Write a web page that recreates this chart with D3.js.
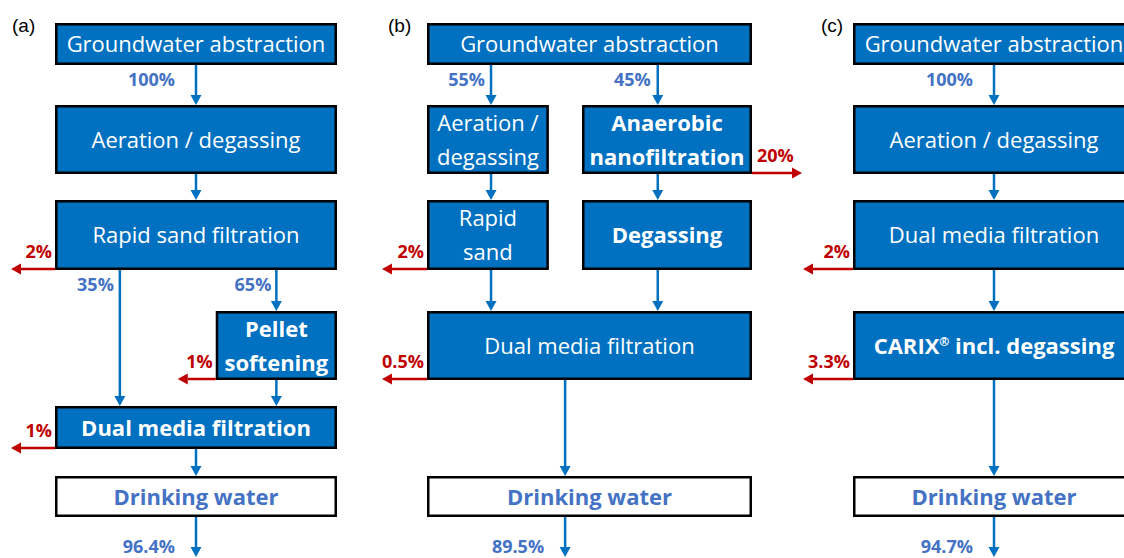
<!DOCTYPE html>
<html>
<head>
<meta charset="utf-8">
<script src="https://cdn.jsdelivr.net/npm/d3@7"></script>
<style>
  body { margin: 0; background: #fff; }
  svg { display: block; }
</style>
</head>
<body>
<svg id="chart"></svg>
<script>
const W = 1124, H = 558;
const BLUE = "#0070c0", LABEL_BLUE = "#4472c4", RED = "#c00000";
const FONT = "'Open Sans', 'Noto Sans', sans-serif";

// ---- data ----
const panelLetters = ["(a)", "(b)", "(c)"];

const stepsA = ["Groundwater abstraction", "Aeration / degassing", "Rapid sand filtration",
                "Pellet\nsoftening", "Dual media filtration", "Drinking water"];
const stepsB = ["Groundwater abstraction", "Aeration /\ndegassing", "Anaerobic\nnanofiltration",
                "Rapid\nsand", "Degassing", "Dual media filtration", "Drinking water"];
const stepsC = ["Groundwater abstraction", "Aeration / degassing", "Dual media filtration",
                "CARIX® incl. degassing", "Drinking water"];

// [from step, to step, share of flow in %]
const flowsA = [[0, 1, 100], [1, 2, null], [2, 4, 35], [2, 3, 65], [3, 4, null], [4, 5, null]];
const flowsB = [[0, 1, 55], [0, 2, 45], [1, 3, null], [2, 4, null], [3, 5, null], [4, 5, null], [5, 6, null]];
const flowsC = [[0, 1, 100], [1, 2, null], [2, 3, null], [3, 4, null]];

// [step, water loss in %]
const lossesA = [[2, 2], [3, 1], [4, 1]];
const lossesB = [[2, 20], [3, 2], [5, 0.5]];
const lossesC = [[2, 2], [3, 3.3]];

const product = [96.4, 89.5, 94.7];

// ---- layout ----
const rowY = d3.scaleOrdinal().domain([0, 1, 2, 3, 4, 5]).range([23, 105, 200, 311, 406, 476]);
const rowB = d3.scaleOrdinal().domain([0, 1, 2, 3, 4, 5]).range([65, 174, 270, 380, 449, 517]);

const panels = [
  {
    steps: stepsA, flows: flowsA, losses: lossesA, ext: [55, 337], letterX: 12,
    nodes: [
      { row: 0, u: [0, 1] }, { row: 1, u: [0, 1] }, { row: 2, u: [0, 1] },
      { row: 3, u: [0.57, 1], bold: true }, { row: 4, u: [0, 1], bold: true },
      { row: 5, u: [0, 1], bold: true, out: true }
    ],
    edgeU: [0.5, 0.5, 0.23, 0.785, 0.785, 0.5],
    labelGap: [21, 0, 6, 5, 0, 0],
    lossSide: ["l", "l", "l"], lossLen: [44, 38, 44],
    outU: 0.5
  },
  {
    steps: stepsB, flows: flowsB, losses: lossesB, ext: [427, 752], letterX: 388,
    nodes: [
      { row: 0, u: [0, 1] }, { row: 1, u: [0, 0.375] }, { row: 1, u: [0.477, 1], bold: true },
      { row: 2, u: [0, 0.375] }, { row: 2, u: [0.477, 1], bold: true }, { row: 3, u: [0, 1] },
      { row: 5, u: [0, 1], bold: true, out: true }
    ],
    edgeU: [0.197, 0.71, 0.197, 0.71, 0.197, 0.71, 0.425],
    labelGap: [6, 7, 0, 0, 0, 0, 0],
    lossSide: ["r", "l", "l"], lossLen: [50, 45, 45],
    outU: 0.425
  },
  {
    steps: stepsC, flows: flowsC, losses: lossesC, ext: [853, 1135], letterX: 821,
    nodes: [
      { row: 0, u: [0, 1] }, { row: 1, u: [0, 1] }, { row: 2, u: [0, 1] },
      { row: 3, u: [0, 1], bold: true }, { row: 5, u: [0, 1], bold: true, out: true }
    ],
    edgeU: [0.5, 0.5, 0.5, 0.5],
    labelGap: [21, 0, 0, 0],
    lossSide: ["l", "l"], lossLen: [50, 50],
    outU: 0.5
  }
];

const pct = v => v + "%";

const svg = d3.select("#chart").attr("width", W).attr("height", H)
  .style("font-family", FONT);

function arrow(g, x1, y1, x2, y2, color) {
  const len = Math.hypot(x2 - x1, y2 - y1), dx = (x2 - x1) / len, dy = (y2 - y1) / len;
  const hl = 10, hw = 5.5;
  const bx = x2 - dx * hl, by = y2 - dy * hl;
  g.append("line").attr("x1", x1).attr("y1", y1).attr("x2", bx).attr("y2", by)
    .attr("stroke", color).attr("stroke-width", 2.5);
  g.append("path")
    .attr("d", d3.line()([[x2, y2], [bx - dy * hw, by + dx * hw], [bx + dy * hw, by - dx * hw]]) + "Z")
    .attr("fill", color);
}

function boxText(t, label) {
  const lines = label.split("\n");
  const gap = 34;
  lines.forEach((line, i) => {
    const ts = t.append("tspan").attr("x", t.attr("x"))
      .attr("dy", i === 0 ? (-(lines.length - 1) * gap / 2 + 8) : gap);
    const parts = line.split("®");
    parts.forEach((p, j) => {
      if (j > 0) {
        ts.append("tspan").text("®").attr("font-size", 12).attr("baseline-shift", "super");
      }
      ts.append("tspan").text(p);
    });
  });
}

panels.forEach((p, pi) => {
  const x = d3.scaleLinear().domain([0, 1]).range(p.ext);
  const g = svg.append("g");

  g.append("text").attr("x", p.letterX).attr("y", 32)
    .attr("font-family", "'Liberation Sans', Arial, sans-serif").attr("font-size", 19)
    .text(panelLetters[pi]);

  // flows between steps
  p.flows.forEach((f, i) => {
    const from = p.nodes[f[0]], to = p.nodes[f[1]];
    const xx = x(p.edgeU[i]);
    arrow(g, xx, rowB(from.row), xx, rowY(to.row), BLUE);
    if (f[2] != null) {
      g.append("text").attr("x", xx - p.labelGap[i]).attr("y", rowB(from.row) + 21)
        .attr("text-anchor", "end").attr("font-size", 18).attr("font-weight", 700)
        .attr("fill", LABEL_BLUE).text(pct(f[2]));
    }
  });

  // final product
  const last = p.nodes[p.nodes.length - 1];
  const ox = x(p.outU);
  arrow(g, ox, rowB(last.row), ox, H - 1, BLUE);
  g.append("text").attr("x", ox - 21).attr("y", 553)
    .attr("text-anchor", "end").attr("font-size", 18).attr("font-weight", 700)
    .attr("fill", LABEL_BLUE).text(pct(product[pi]));

  // process boxes
  p.nodes.forEach((n, i) => {
    const x0 = x(n.u[0]), x1 = x(n.u[1]), y0 = rowY(n.row), y1 = rowB(n.row);
    g.append("rect").attr("x", x0 + 1.25).attr("y", y0 + 1.25)
      .attr("width", x1 - x0 - 2.5).attr("height", y1 - y0 - 2.5)
      .attr("fill", n.out ? "#fff" : BLUE).attr("stroke", "#000").attr("stroke-width", 2.5);
    const t = g.append("text").attr("x", (x0 + x1) / 2).attr("y", (y0 + y1) / 2)
      .attr("text-anchor", "middle").attr("font-size", 22)
      .attr("font-weight", n.bold ? 700 : 400)
      .attr("fill", n.out ? LABEL_BLUE : "#fff");
    boxText(t, p.steps[i]);
  });

  // water losses
  p.losses.forEach((l, i) => {
    const n = p.nodes[l[0]];
    const x0 = x(n.u[0]), x1 = x(n.u[1]), yb = rowB(n.row) - 1;
    const right = p.lossSide[i] === "r";
    const sx = right ? x1 : x0, ex = right ? x1 + p.lossLen[i] : x0 - p.lossLen[i];
    arrow(g, sx, yb, ex, yb, RED);
    g.append("text").attr("x", right ? sx + 5 : sx - 3).attr("y", yb - 11)
      .attr("text-anchor", right ? "start" : "end").attr("font-size", 18).attr("font-weight", 700)
      .attr("fill", RED).text(pct(l[1]));
  });
});
</script>
</body>
</html>
